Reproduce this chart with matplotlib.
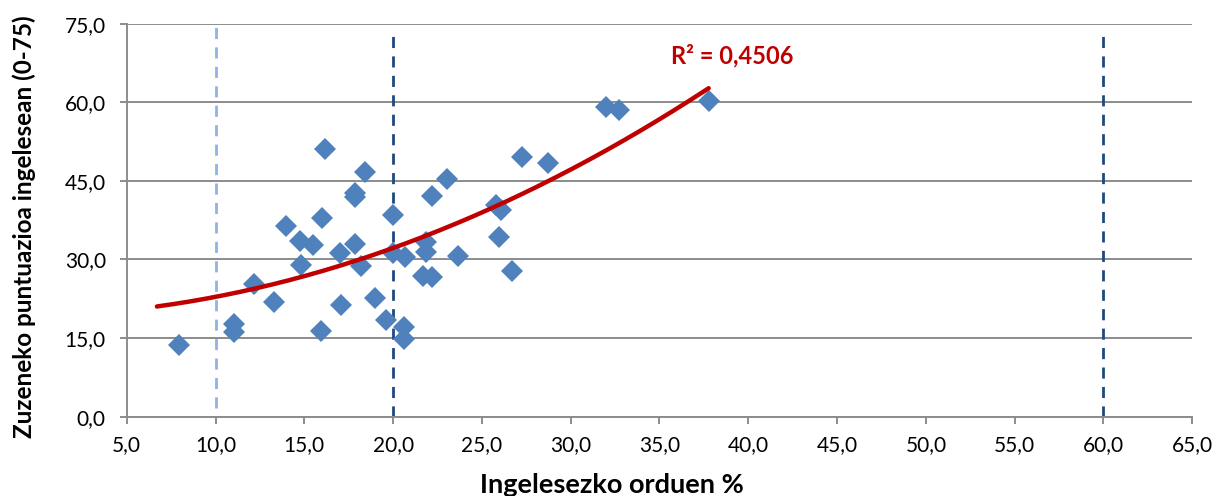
import matplotlib
matplotlib.use('Agg')
import matplotlib.pyplot as plt
import numpy as np

plt.rcParams['font.family'] = ['Lato', 'DejaVu Sans']

# Datuak (irudian irakurritakoak)
orduak = [7.93, 11.06, 11.06, 12.19, 13.32, 13.97, 14.76, 14.82, 15.51, 15.99,
          16.17, 15.95, 17.02, 17.06, 17.88, 17.88, 17.88, 18.18, 18.44, 19.00,
          19.59, 19.99, 19.99, 20.64, 20.64, 20.68, 21.69, 22.20, 21.86, 21.86,
          22.20, 23.06, 23.63, 25.81, 26.07, 25.99, 26.69, 27.25, 28.72, 31.99,
          32.74, 37.77]
puntuazioa = [13.68, 17.63, 16.22, 25.27, 21.95, 36.39, 33.59, 28.95, 32.77, 37.98,
              51.03, 16.35, 31.18, 21.32, 42.63, 41.87, 32.90, 28.76, 46.76, 22.60,
              18.45, 38.49, 31.18, 17.18, 14.77, 30.42, 26.85, 26.72, 33.40, 31.37,
              42.12, 45.31, 30.67, 40.40, 39.45, 34.24, 27.80, 49.62, 48.47, 59.16,
              58.53, 60.25]
muga_lerroak = [10, 20, 60]
x_ticks = [5, 10, 15, 20, 25, 30, 35, 40, 45, 50, 55, 60, 65]
y_ticks = [0, 15, 30, 45, 60, 75]
r2_testua = 'R² = 0,4506'

fig = plt.figure(figsize=(12.16, 4.96), dpi=100)
ax = fig.add_axes([0.1042, 0.1599, 0.8763, 0.7923])

# Bertikalak
ax.vlines(muga_lerroak[0], 1.6, 75, color='#8DB4E2', linewidth=2, linestyles=(0, (4, 3)), zorder=2)
ax.vlines(muga_lerroak[1:], 0, 73.4, color='#1F497D', linewidth=2, linestyles=(0, (4, 3)), zorder=2)

# Puntuak
ax.plot(orduak, puntuazioa, linestyle='none', marker='D', markersize=11,
        color='#4F81BD', markeredgewidth=0, zorder=3)

# Joera-lerroa (polinomiala, 2. maila)
koef = np.polyfit(orduak, puntuazioa, 2)
xs = np.linspace(6.7, max(orduak), 200)
ax.plot(xs, np.polyval(koef, xs), color='#C00000', linewidth=3.2,
        solid_capstyle='round', zorder=4)

ax.text(39.1, 67.4, r2_testua, color='#C00000', fontsize=17, fontweight='bold',
        ha='center', va='baseline')

ax.set_xlim(5, 65)
ax.set_ylim(0, 75)
ax.set_xticks(x_ticks)
ax.set_yticks(y_ticks)
ax.set_xticklabels([f'{v:.1f}'.replace('.', ',') for v in x_ticks], fontsize=15)
ax.set_yticklabels([f'{v:.1f}'.replace('.', ',') for v in y_ticks], fontsize=15)
ax.yaxis.grid(True, color='#8C8C8C', linewidth=1.4)
ax.set_axisbelow(True)
for s in ['top', 'right']:
    ax.spines[s].set_visible(False)
for s in ['left', 'bottom']:
    ax.spines[s].set_color('#8C8C8C')
    ax.spines[s].set_linewidth(1.4)
ax.tick_params(colors='#8C8C8C', labelcolor='black', length=5, width=1.4)
ax.tick_params(axis='x', pad=8)
ax.tick_params(axis='y', pad=10)

fig.text(612 / 1216, 3 / 496, 'Ingelesezko orduen %', fontsize=19.5, fontweight='bold',
         ha='center', va='baseline')
fig.text(24 / 1216, 0.542, 'Zuzeneko puntuazioa ingelesean (0-75)', fontsize=17.5,
         fontweight='bold', rotation=90, ha='center', va='center')

fig.savefig('out.png', dpi=100)
